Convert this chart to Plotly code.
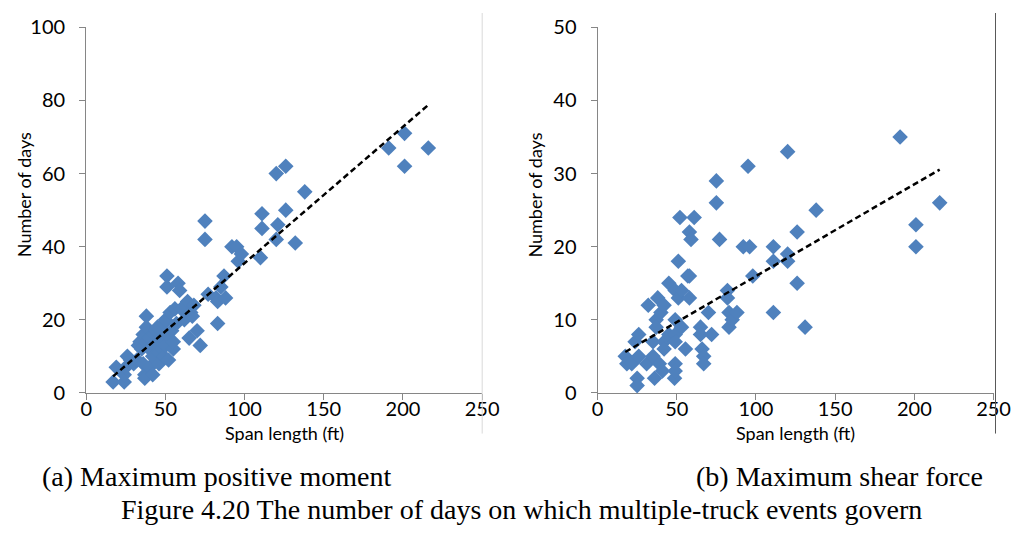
import numpy as np
import plotly.graph_objects as go

# Span length (ft) and number of days, maximum positive moment
moment_span = [17, 19, 24, 24, 25, 26, 28, 30, 32, 33, 34, 35, 36, 36, 37, 37, 38, 38, 38,
               40, 40, 40, 42, 42, 43, 44, 44, 45, 46, 46, 47, 48, 48, 49, 49, 50, 50, 51,
               51, 51, 52, 53, 54, 55, 55, 56, 57, 58, 59, 60, 62, 64, 65, 66, 67, 68, 70,
               72, 75, 75, 77, 82, 83, 83, 85, 87, 88, 92, 95, 96, 98, 110, 111, 111, 120,
               120, 121, 126, 126, 132, 138, 191, 201, 201, 216]
moment_days = [3, 7, 3, 5, 7, 10, 9, 8, 9, 13, 14, 12, 16, 8, 5, 4, 21, 18, 14,
               15, 12, 7, 5, 10, 16, 17, 13, 18, 11, 8, 14, 15, 12, 19, 10, 20, 13, 32,
               29, 16, 9, 22, 17, 12, 14, 23, 19, 30, 28, 23, 20, 25, 15, 22, 21, 24, 17,
               13, 47, 42, 27, 26, 25, 19, 29, 32, 26, 40, 40, 36, 38, 37, 45, 49, 60,
               42, 46, 62, 50, 41, 55, 67, 71, 62, 67]

# Span length (ft) and number of days, maximum shear force
shear_span = [17.5, 18.5, 21.6, 23.7, 25, 25, 26, 26, 31, 32, 35, 35, 36, 37, 37, 38, 39,
              40, 41, 42, 42, 42, 45, 45, 48.6, 49, 49, 49, 49, 49, 49, 51, 51, 52, 53, 53,
              55.5, 57, 58, 58, 58, 59, 61, 65, 65, 66, 67, 67, 70, 72, 75, 75, 77, 82, 82,
              83, 83, 85, 88, 92, 95, 96, 98, 111, 111, 111, 120, 120, 120, 126, 126, 131,
              138, 191, 201, 201, 216]
shear_days = [5, 4, 4, 7, 2, 1, 8, 5, 4, 12, 7, 5, 2, 10, 9, 13, 4,
              11, 3, 12, 7, 6, 15, 8, 2, 14, 10, 8, 7, 4, 3, 18, 13, 24, 14, 9,
              6, 16, 16, 22, 13, 21, 24, 9, 8, 6, 5, 4, 11, 8, 29, 26, 21, 14, 13,
              11, 9, 10, 11, 20, 31, 20, 16, 20, 18, 11, 33, 19, 18, 22, 15, 9,
              25, 35, 23, 20, 26]

# Linear trendlines (slope, intercept)
moment_trend = (0.373, -1.8)
shear_trend = (0.1257, 3.4)

x_ticks = [0, 50, 100, 150, 200, 250]
moment_ticks = [0, 20, 40, 60, 80, 100]
shear_ticks = [0, 10, 20, 30, 40, 50]

W, H = 1035, 543
BLUE = "#4F81BD"
AXIS = "#868686"
TICK_FONT = dict(family="Lato, Open Sans, sans-serif", size=20, color="#000000")
TITLE_FONT = dict(family="Lato, Open Sans, sans-serif", size=18, color="#000000")
CAP_FONT = dict(family="Liberation Serif, Times New Roman, serif", size=28, color="#000000")


def px_x(p):
    return p / W


def px_y(p):
    return 1 - p / H


fig = go.Figure()

panels = [
    (moment_span, moment_days, moment_trend, "x", "y"),
    (shear_span, shear_days, shear_trend, "x2", "y2"),
]
for span, days, (a, b), xa, ya in panels:
    fig.add_trace(go.Scatter(
        x=span, y=days, mode="markers", xaxis=xa, yaxis=ya,
        marker=dict(symbol="diamond", size=12, color=BLUE, line=dict(width=0)),
        showlegend=False,
    ))
    xs = np.array([min(span), max(span)], dtype=float)
    fig.add_trace(go.Scatter(
        x=xs, y=a * xs + b, mode="lines", xaxis=xa, yaxis=ya,
        line=dict(color="#000000", width=2.5, dash="6px,3.5px"),
        showlegend=False,
    ))

axis_common = dict(
    showgrid=False, zeroline=False, showline=True, linecolor=AXIS, linewidth=1,
    ticks="outside", ticklen=6, tickcolor=AXIS, tickwidth=1, tickfont=TICK_FONT,
)

left_dom = [px_x(82), px_x(487)]
right_dom = [px_x(605), px_x(1010)]
y_dom = [px_y(397.5), px_y(15)]

fig.update_layout(
    width=W, height=H,
    margin=dict(l=0, r=0, t=0, b=0),
    paper_bgcolor="white", plot_bgcolor="white",
    xaxis=dict(domain=left_dom, range=[0, 250], tickvals=x_ticks, anchor="y",
               ticklabelstandoff=-8, **axis_common),
    yaxis=dict(domain=y_dom, range=[0, 100], tickvals=moment_ticks, anchor="x",
               ticklabelstandoff=10, **axis_common),
    xaxis2=dict(domain=right_dom, range=[0, 250], tickvals=x_ticks, anchor="y2",
                ticklabelstandoff=-8, **axis_common),
    yaxis2=dict(domain=y_dom, range=[0, 50], tickvals=shear_ticks, anchor="x2",
                ticklabelstandoff=10, **axis_common),
)

annotations = [
    dict(text="Span length (ft)", x=px_x(284.5), y=px_y(439), font=TITLE_FONT),
    dict(text="Span length (ft)", x=px_x(807.5), y=px_y(439), font=TITLE_FONT),
    dict(text="Number of days", x=px_x(18), y=px_y(190), textangle=-90, font=TITLE_FONT),
    dict(text="Number of days", x=px_x(541), y=px_y(190), textangle=-90, font=TITLE_FONT),
    dict(text="(a) Maximum positive moment", x=px_x(35), y=px_y(485), xanchor="left", font=CAP_FONT),
    dict(text="(b) Maximum shear force", x=px_x(1001), y=px_y(485), xanchor="right", font=CAP_FONT),
    dict(text="Figure 4.20 The number of days on which multiple-truck events govern",
         x=px_x(527), y=px_y(519), font=CAP_FONT),
]
for ann in annotations:
    ann.setdefault("xanchor", "center")
    fig.add_annotation(xref="paper", yref="paper", yanchor="middle", showarrow=False, **ann)

# Chart frame edges on the right of each panel
fig.add_shape(type="line", xref="paper", yref="paper", x0=px_x(487), x1=px_x(487),
              y0=px_y(440), y1=1, line=dict(color="#d9d9d9", width=1))
fig.add_shape(type="line", xref="paper", yref="paper", x0=px_x(1012), x1=px_x(1012),
              y0=px_y(440), y1=1, line=dict(color="#595959", width=1))

fig.write_html("out.html")
